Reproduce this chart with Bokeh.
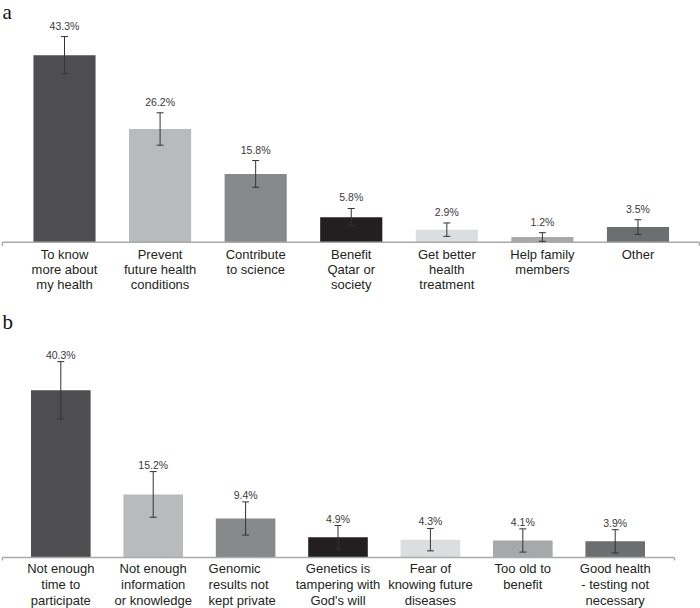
from bokeh.plotting import figure
from bokeh.models import ColumnDataSource, Whisker, TeeHead, Range1d
from bokeh.layouts import column
from bokeh.core.properties import value
from bokeh.embed import file_html
from bokeh.resources import INLINE

# ---------------- data ----------------
a_cats = ["To know\nmore about\nmy health", "Prevent\nfuture health\nconditions",
          "Contribute\nto science", "Benefit\nQatar or\nsociety",
          "Get better\nhealth\ntreatment", "Help family\nmembers", "Other"]
a_vals = [43.3, 26.2, 15.8, 5.8, 2.9, 1.2, 3.5]
a_err = [4.3, 3.75, 3.1, 2.0, 1.55, 1.0, 1.7]

b_cats = ["Not enough\ntime to\nparticipate", "Not enough\ninformation\nor knowledge",
          "Genomic\nresults not\nkept private", "Genetics is\ntampering with\nGod's will",
          "Fear of\nknowing future\ndiseases", "Too old to\nbenefit",
          "Good health\n- testing not\nnecessary"]
b_vals = [40.3, 15.2, 9.4, 4.9, 4.3, 4.1, 3.9]
b_err = [6.9, 5.5, 4.0, 2.8, 2.7, 2.8, 2.8]

bar_colors = ["#4e4e50", "#b9babc", "#88898b", "#231f20", "#dcdddf", "#a7a8aa", "#6d6e70"]

FONT = "Liberation Sans"
W = 700


def panel(cats, vals, err, xr, yr, height, letter, letter_y, bar_w,
          lab_off, cat_off, axis_x1, tick_len, line_h, left_idx=None, left_off=0):
    p = figure(width=W, height=height, x_range=Range1d(*xr), y_range=Range1d(*yr),
               output_backend="svg", toolbar_location=None, min_border=0,
               background_fill_color="white", border_fill_color="white")
    p.axis.visible = False
    p.grid.visible = False
    p.outline_line_color = None

    xs = list(range(len(cats)))
    src = ColumnDataSource(dict(
        x=xs, top=vals, color=bar_colors[:len(cats)],
        upper=[v + e for v, e in zip(vals, err)],
        lower=[v - e for v, e in zip(vals, err)],
        lab=["%.1f%%" % v for v in vals],
    ))
    p.vbar(x="x", top="top", width=bar_w, bottom=0, fill_color="color",
           line_color=None, source=src)

    # axis line with end ticks
    p.segment(x0=[xr[0] + 0.02, xr[0] + 0.02, axis_x1], y0=[0, 0, 0],
              x1=[axis_x1, xr[0] + 0.02, axis_x1], y1=[0, -tick_len, -tick_len],
              line_color="#aaaaaa", line_width=1.5)

    wk = Whisker(base="x", upper="upper", lower="lower", source=src,
                 line_color="#333333", line_width=1,
                 upper_head=TeeHead(size=7, line_color="#333333", line_width=1),
                 lower_head=TeeHead(size=7, line_color="#333333", line_width=1))
    wk.level = "overlay"
    p.add_layout(wk)

    p.text(x="x", y="upper", text="lab", source=src, text_align="center",
           text_baseline="middle", y_offset=lab_off, text_font=value(FONT),
           text_font_size="10.5px", text_color="#3a3a3a")

    cidx = [i for i in xs if i != left_idx]
    csrc = ColumnDataSource(dict(x=cidx, y=[0] * len(cidx), t=[cats[i] for i in cidx]))
    p.text(x="x", y="y", text="t", source=csrc, text_align="center",
           text_baseline="top", y_offset=cat_off, text_font=value(FONT),
           text_font_size="13px", text_color="#231f20", text_line_height=line_h)
    if left_idx is not None:
        p.text(x=[left_idx], y=[0], text=[cats[left_idx]], text_align="left",
               text_baseline="top", x_offset=left_off, y_offset=cat_off,
               text_font=value(FONT), text_font_size="13px",
               text_color="#231f20", text_line_height=line_h)

    p.text(x=[xr[0]], y=[letter_y], text=[letter], x_offset=2,
           text_align="left", text_baseline="alphabetic",
           text_font=value("Liberation Serif"), text_font_size="21px",
           text_color="#111111")
    return p


pa = panel(a_cats, a_vals, a_err, xr=(-0.6696, 6.654), yr=(-13.5, 55.95),
           height=300, letter="a", letter_y=53.4, bar_w=0.65,
           lab_off=-11, cat_off=5.0, axis_x1=6.644, tick_len=0.9, line_h=1.01)
pb = panel(b_cats, b_vals, b_err, xr=(-0.6526, 6.923), yr=(-12.29, 61.93),
           height=308, letter="b", letter_y=56.8, bar_w=0.645,
           lab_off=-7, cat_off=4.0, axis_x1=6.642, tick_len=0.7, line_h=1.04,
           left_idx=2, left_off=-37)

layout = column(pa, pb, spacing=0)
open("out.html", "w").write(file_html(layout, INLINE))
